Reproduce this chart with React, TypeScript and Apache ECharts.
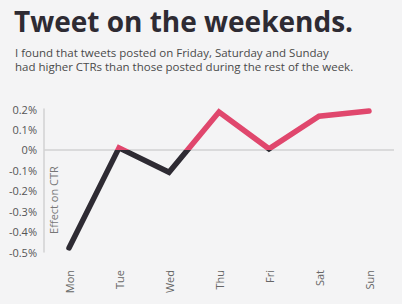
import React, { useEffect, useRef } from "react";
import * as echarts from "echarts";

const days = ["Mon", "Tue", "Wed", "Thu", "Fri", "Sat", "Sun"];
const effect = [-0.48, 0.01, -0.11, 0.185, 0.005, 0.165, 0.19];
const yTicks = [-0.5, -0.4, -0.3, -0.2, -0.1, 0, 0.1, 0.2];
const title = "Tweet on the weekends.";
const subtitle = [
  "I found that tweets posted on Friday, Saturday and Sunday",
  "had higher CTRs than those posted during the rest of the week.",
];
const axisName = "Effect on CTR";

const POS = "#e0476d";
const NEG = "#2e2b33";

export default function App() {
  const ref = useRef<HTMLDivElement>(null);
  useEffect(() => {
    const chart = echarts.init(ref.current!, null, { renderer: "svg" });
    const hi = Math.max(...effect);
    const lo = Math.min(...effect);
    const off = hi / (hi - lo);
    const grad = new echarts.graphic.LinearGradient(0, 0, 0, 1, [
      { offset: 0, color: POS },
      { offset: off, color: POS },
      { offset: off, color: NEG },
      { offset: 1, color: NEG },
    ]);
    chart.setOption({
      animation: false,
      backgroundColor: "#f4f4f5",
      textStyle: { fontFamily: "Open Sans" },
      grid: { left: 44, right: 8, top: 109, bottom: 52 },
      xAxis: {
        type: "category",
        data: days,
        boundaryGap: true,
        axisLine: { show: false },
        axisTick: { show: false },
        axisLabel: {
          rotate: 90,
          margin: 18,
          color: "#666",
          fontSize: 11,
          fontFamily: "Open Sans",
        },
      },
      yAxis: {
        type: "value",
        min: yTicks[0],
        max: yTicks[yTicks.length - 1],
        interval: 0.1,
        splitLine: { show: false },
        axisTick: { show: false },
        axisLine: { show: true, lineStyle: { color: "#d2d2d2", width: 1.5 } },
        axisLabel: {
          margin: 7,
          color: "#555",
          fontSize: 11,
          fontFamily: "Open Sans",
          formatter: (v: number) => {
            const r = Math.round(v * 10) / 10;
            return (r === 0 ? "0" : r.toFixed(1)) + "%";
          },
        },
      },
      series: [
        {
          type: "line",
          data: effect,
          symbol: "none",
          lineStyle: { width: 5.5, cap: "round", join: "miter", color: grad },
          z: 3,
          markLine: {
            silent: true,
            symbol: "none",
            label: { show: false },
            lineStyle: { color: "#d2d2d2", width: 1.5, type: "solid" },
            data: [{ yAxis: 0 }],
            z: 1,
          },
        },
      ],
      graphic: [
        {
          type: "text",
          x: 14,
          y: 21,
          style: {
            text: title,
            fontSize: 28,
            fontWeight: "bold",
            fontFamily: "Open Sans",
            fill: "#2e2b33",
            verticalAlign: "middle",
          },
        },
        {
          type: "text",
          left: 15,
          top: 45,
          style: {
            text: subtitle.join("\n"),
            fontSize: 11.5,
            lineHeight: 14,
            fontFamily: "Open Sans",
            fill: "#4a4a4a",
          },
        },
        {
          type: "text",
          x: 53,
          y: 200,
          rotation: Math.PI / 2,
          style: {
            text: axisName,
            fontSize: 11,
            fontFamily: "Open Sans",
            fill: "#777",
            align: "center",
            verticalAlign: "middle",
          },
        },
      ],
    });
    return () => chart.dispose();
  }, []);
  return (
    <div
      ref={ref}
      style={{ position: "absolute", left: 0, top: 0, width: 402, height: 304 }}
    />
  );
}
